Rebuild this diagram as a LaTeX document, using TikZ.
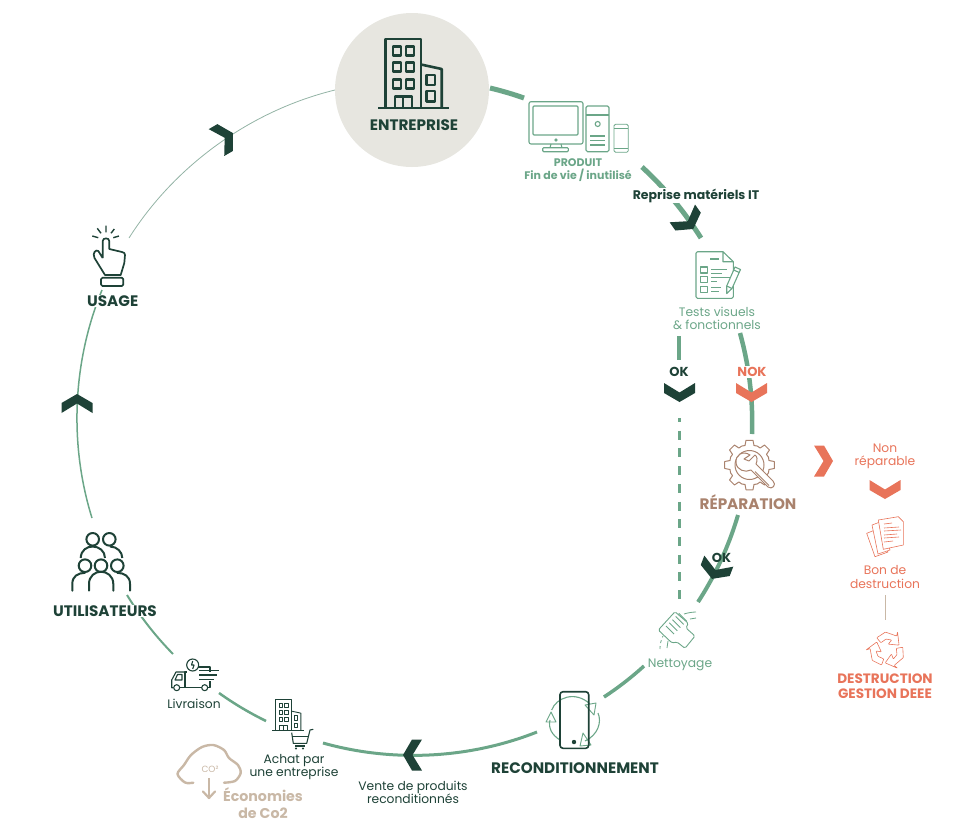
\documentclass[tikz,border=0pt]{standalone}
\usepackage{fontspec}
\setmainfont{Poppins}
\definecolor{flowgreen}{HTML}{6BA688}
\definecolor{treegreen}{HTML}{1E4237}
\definecolor{paleline}{HTML}{93B3A5}
\definecolor{hotorange}{HTML}{E8745A}
\definecolor{toolbrown}{HTML}{A9826D}
\definecolor{cloudbeige}{HTML}{C9B8A6}
\definecolor{discgrey}{HTML}{E7E6E0}
\tikzset{
  chevron/.pic={
    \fill (-15.5,-9.5) -- (0,0) -- (15.5,-9.5) -- (15.5,0.5) -- (0,9.5) -- (-15.5,0.5) -- cycle;
  },
  building/.pic={
    \draw (0,0) -- (0,-69) -- (35.3,-69) -- (35.3,0);
    \draw (35.3,-43.5) -- (56,-39) -- (56,0);
    \draw (-7.7,0) -- (63.3,0);
    \foreach \wx in {7.3,20.3}
      \foreach \wy in {-61.3,-45.7,-28.7}
        \draw (\wx,\wy) rectangle ++(8,9);
    \draw (41,-33) rectangle (49.3,-23);
    \draw (41,-17) rectangle (49.3,-6.3);
    \draw (9.3,0) -- (9.3,-11.3) -- (26.3,-11.3) -- (26.3,0);
    \draw (17.3,0) -- (17.3,-11.3);
  }
}
\begin{document}
\begin{tikzpicture}[x=1pt,y=-1pt,line join=round]
\tikzstyle{flow}=[color=flowgreen,looseness=.87]
\tikzstyle{icongreen}=[draw=flowgreen,line width=1.1pt]
\tikzstyle{icondark}=[draw=treegreen,line width=1.1pt]
\tikzstyle{iconorange}=[draw=hotorange,line width=.6pt]
\tikzstyle{iconbrown}=[draw=toolbrown,line width=1pt]
\tikzstyle{caption}=[font=\fontsize{12.3}{13}\selectfont,align=center,inner sep=1pt]
\tikzstyle{heading}=[font=\bfseries\fontsize{15.2}{17}\selectfont,align=center,inner sep=1pt,fill=white,text=treegreen]
\useasboundingbox (0,0) rectangle (954,831);

% points where the ring pieces stop
\coordinate (entA) at (490,88);
\coordinate (entB) at (524,98);
\coordinate (repA) at (642,167);
\coordinate (repB) at (701,238);
\coordinate (nokA) at (740,333);
\coordinate (nokB) at (752,434);
\coordinate (okA) at (679,336);
\coordinate (okB) at (679,360);
\coordinate (dashA) at (679,418);
\coordinate (dashB) at (679,602);
\coordinate (fixA) at (738,515);
\coordinate (fixB) at (698,602);
\coordinate (cleanA) at (644,666);
\coordinate (cleanB) at (604,697);
\coordinate (saleA) at (537,732);
\coordinate (saleB) at (323,743);
\coordinate (buyA) at (266,721);
\coordinate (buyB) at (219,693);
\coordinate (truckA) at (173,654);
\coordinate (truckB) at (127,595);
\coordinate (userA) at (92,518);
\coordinate (userB) at (102,290);
\coordinate (handA) at (129,238);
\coordinate (handB) at (335,90);
\coordinate (paperA) at (885.7,595);
\coordinate (paperB) at (885.7,620);

\path[flow]
    (entA) edge [line width=5pt,bend left=3] (entB)
    (repA) edge [line width=5pt,bend left=7.6] (repB)
    (nokA) edge [line width=4.5pt,bend left=8.7] (nokB)
    (fixA) edge [line width=4pt,bend left=8.2] (fixB)
    (cleanA) edge [line width=3.5pt,bend left=4.4] (cleanB)
    (saleA) edge [line width=3pt,bend left=18.6] (saleB)
    (buyA) edge [line width=2.5pt,bend left=4.6] (buyB)
    (truckA) edge [line width=2pt,bend left=6.4] (truckB)
    (userA) edge [line width=1.5pt,bend left=19.8] (userB);
\path[color=flowgreen] (okA) edge [line width=4pt] (okB);
\path[color=flowgreen] (dashA) edge [line width=3pt,dash pattern=on 9pt off 8.7pt,dash phase=5pt] (dashB);
\path[color=paleline] (handA) edge [line width=.8pt,bend left=22,looseness=.87] (handB);
\path[color=cloudbeige] (paperA) edge [line width=.8pt] (paperB);

% company
\node [circle,fill=discgrey,minimum size=154pt,inner sep=0pt] (company) at (412,90) {};
\pic [color=treegreen,line width=2.6pt] at (385.7,108) {building};

% product
\draw[icongreen,rounded corners=2pt] (529,101.7) rectangle (583,144);
\draw[icongreen,rounded corners=1pt] (533,106) rectangle (578,135);
\draw[icongreen] (556,140) circle (1.2);
\draw[icongreen] (551,144) -- (550,147.7) (561,144) -- (562,147.7);
\draw[icongreen,rounded corners=1pt] (542.7,147.7) rectangle (568.3,151.7);
\draw[icongreen,rounded corners=1.5pt] (586,106) rectangle (609,151.7);
\draw[icongreen] (586,115) -- (609,115);
\draw[icongreen] (597.7,124) circle (2.5);
\foreach \ly in {136,140.7,145}
  \draw[icongreen] (590,\ly) -- (605,\ly);
\draw[icongreen,rounded corners=1.5pt,line width=.8pt] (614,124.3) rectangle (628.3,152.3);
\draw[icongreen,line width=.8pt] (614,128.3) -- (628.3,128.3) (614,148.3) -- (628.3,148.3);

% tests sheet
\draw[icongreen,rounded corners=1.5pt] (723,251.7) -- (696,251.7) -- (696,298.3) -- (733.3,298.3) -- (733.3,284);
\draw[icongreen] (733.3,273) -- (733.3,261.7) -- (723,251.7) -- (723,261.7) -- (733.3,261.7);
\draw[icongreen] (710,259) -- (719,259);
\foreach \by in {267,276.7,286.7}
  \draw[icongreen] (700.7,\by) rectangle ++(6.6,6);
\draw[icongreen] (711,269.3) -- (727,269.3) (711,273.3) -- (722,273.3);
\draw[icongreen] (711,277.7) -- (731,277.7) (711,281.7) -- (717,281.7);
\draw[icongreen] (711,287.3) -- (721,287.3) (711,291.7) -- (718.5,291.7);
\draw[icongreen,fill=white] (726.7,293.5) -- (726.7,286) -- (735,267) -- (740.5,269.5) -- (732,288.5) -- cycle;
\draw[icongreen] (726.7,286) -- (732,288.5) (733.7,270) -- (739.2,272.5);

% repair gear
\draw[iconbrown,shift={(749.5,465)}] (-13:20) \foreach \ga in {0,45,...,315} {
    -- (\ga-13:20) -- (\ga-8:25) -- (\ga+8:25) -- (\ga+13:20) -- (\ga+22.5:20.5)
  } -- cycle;
\draw[iconbrown] (749.5,465) circle (14.5);
\draw[iconbrown,fill=white] (750,455) .. controls (743,450) and (735,455) .. (736,463)
  .. controls (737,470) and (745,473) .. (751,470) -- (768,487)
  .. controls (772,490) and (777,485) .. (773,481) -- (756,464)
  .. controls (758,460) and (757,456) .. (755,455) -- (749,461) -- (744,459) -- cycle;
\draw[iconbrown] (755,471.5) -- (769,485.5);

% sheets to destroy
\draw[iconorange,fill=white] (866.7,533.3) -- (875,530) -- (888,552) -- (875,556.7) -- cycle;
\draw[iconorange,fill=white] (872,525) -- (880,522) -- (890,550) -- (878,554) -- cycle;
\draw[iconorange,fill=white] (878.3,520) -- (898.3,516.7) -- (903.3,521.7) -- (903.3,545) -- (883.3,549.3) -- cycle;
\foreach \ly/\lx in {524/892,528/899,531/901,535/897,538/899,542/893}
  \draw[iconorange] (884,\ly) -- (\lx,\ly-1);

% recycling
\foreach \ra in {0,120,240}
  \draw[iconorange,shift={(887,650)},rounded corners=.6pt]
    (\ra-130:16) -- (\ra-95:18) -- (\ra-55:17) -- (\ra-60:21) -- (\ra-22:13) -- (\ra-78:6) -- (\ra-65:11) -- (\ra-95:11) -- (\ra-130:9.5) -- cycle;

% cleaning
\draw[icongreen,line width=.9pt,rounded corners=1.5pt] (658.3,630) -- (675,611.7) -- (688.3,623.3) -- (686,628) -- (695,636) -- (685,648.3) -- (677,642) -- (672,643) -- cycle;
\foreach \da in {0,1,2,3,4}
  \draw[icongreen,line width=.9pt] (666+\da*3.2,626-\da*3.2) -- (674+\da*3.2,634-\da*3.2);
\draw[icongreen,line width=.8pt] (684,614) .. controls (687,613) and (692,612) .. (696,612);
\draw[icongreen,line width=.8pt] (690,619) -- (696,618);
\draw[icongreen,line width=.8pt,dashed] (660,649) .. controls (660,644) and (661,640) .. (663,636);
\draw[icongreen,line width=.8pt] (667,648) -- (668,641);

% phone with arrows
\draw[icongreen] (551.7,710) .. controls (556,698) and (575,690) .. (590,704);
\draw[icongreen] (598,713) .. controls (602,722) and (598,735) .. (585,741);
\draw[icongreen] (560,740) .. controls (552,735) and (548,728) .. (550,720);
\draw[icongreen,line width=.9pt] (585,705) -- (596,703) -- (594,715) -- cycle;
\draw[icongreen,line width=.9pt] (583,733) -- (591,745) -- (580,746) -- cycle;
\draw[icongreen,line width=.9pt] (546,722) -- (551,712) -- (556,722) -- cycle;
\draw[icondark,line width=1.6pt,rounded corners=3pt] (560,691.7) rectangle (588.7,748.3);
\fill[treegreen] (574,742) circle (2.2);

% company with a cart
\pic [color=treegreen,line width=.9pt,scale=.45] at (275.7,730.7) {building};
\draw[icondark] (291.7,732.7) -- (293.3,743.3) -- (306.7,743.3) -- (310,730) -- (313.3,729.3);
\draw[icondark] (292.3,736.7) -- (308.3,736.7) (295,746) -- (305,746);
\fill[treegreen] (296,748.5) circle (1.2) (303,748.5) circle (1.2);

% truck
\draw[icondark] (185,687.7) -- (185,672) -- (187,672) (198,667) -- (210,667) -- (210,672) (210,681) -- (210,687.7) -- (208,687.7);
\draw[icondark] (173,687.7) -- (171.7,687.7) -- (171.7,680) -- (176,672) -- (185,672);
\draw[icondark] (201.5,687.7) -- (180,687.7);
\draw[icondark] (175,680) -- (177.5,674.5) -- (182,674.5) -- (182,680) -- cycle;
\draw[icondark] (176.7,687.7) circle (3) (204.7,687.7) circle (3);
\draw[icondark] (192.7,665) circle (6);
\draw[icondark] (192.7,661) -- (191.5,665) -- (194,665) -- (192.7,669);
\foreach \ly/\lx in {670.7/219,675/217,679.3/214}
  \draw[icondark] (199,\ly) -- (\lx,\ly);

% cloud
\draw[color=cloudbeige,line width=2.4pt,line cap=round] plot[smooth] coordinates {(193.3,782.7) (185,782.5) (177.5,774) (184,765) (191,755) (202,747) (213.3,745) (224,750) (229,758) (238,765) (240.7,773) (235,781) (224,782.7)};
\node [font=\fontsize{9}{10}\selectfont,text=cloudbeige,inner sep=0pt] (co) at (210,769) {CO²};
\coordinate (cloudA) at (209,778);
\coordinate (cloudB) at (209,798);
\draw[color=cloudbeige,line width=2.2pt] (cloudA) -- (cloudB);
\draw[color=cloudbeige,line width=2.2pt,line cap=round] (203,791.5) -- (cloudB) -- (215,791.5);

% people
\foreach \hx in {92.7,109.3}
  \draw[icondark,line width=2pt] (\hx,539.3) circle (6.3);
\foreach \hx in {85,101,117.3}
  \draw[icondark,line width=2pt] (\hx,565.7) circle (6.3);
\draw[icondark,line width=2pt] (80.7,558) .. controls (81,550) and (87,546.5) .. (92.7,546.5) .. controls (99,546.5) and (105,551) .. (105,558);
\draw[icondark,line width=2pt] (110,546.5) .. controls (117,546.5) and (122.3,552) .. (122.3,558);
\draw[icondark,line width=2pt,line cap=round] (72.3,590.7) -- (72.3,584) .. controls (72.3,576) and (78,573) .. (85,572.8);
\draw[icondark,line width=2pt,line cap=round] (89,590.7) -- (89,584) .. controls (89,576) and (95,571.7) .. (101,571.7) .. controls (107,571.7) and (113.3,576) .. (113.3,584) -- (113.3,590.7);
\draw[icondark,line width=2pt,line cap=round] (130,590.7) -- (130,584) .. controls (130,576) and (124,573) .. (117.3,572.8);

% hand
\draw[icondark,line width=1.7pt] (102.7,258) -- (102.7,241) .. controls (102.7,237.5) and (109.3,237.5) .. (109.3,241) -- (109.3,249)
  -- (122,252) .. controls (124,252.5) and (125,253) .. (125,255) -- (124.3,263) -- (120.7,275) -- (105,275) -- (94.5,258)
  .. controls (92,253) and (96,249) .. (98.3,251) -- (102.7,258);
\draw[icondark,line width=1.7pt,rounded corners=1.5pt] (101,277.7) rectangle (123.3,286);
\draw[icondark,line width=1.4pt] (106,225.7) -- (106,232.3) (97.3,228.3) -- (101,233.3) (114.3,229) -- (111,233.3) (92.3,236) -- (98.3,237.7) (119,236) -- (113.3,237.7);

% labels
\node [heading,fill=none] (companylabel) at (414,125) {ENTREPRISE};
\node [caption,font=\bfseries\fontsize{11}{12.5}\selectfont,text=flowgreen] (productlabel) at (578,170) {PRODUIT\\Fin de vie / inutilisé};
\node [heading,font=\bfseries\fontsize{12.5}{14}\selectfont] (takeback) at (696,195.5) {Reprise matériels IT};
\node [caption,text=flowgreen] (testlabel) at (717,318) {Tests visuels\\\& fonctionnels};
\node [heading,font=\bfseries\fontsize{13}{14}\selectfont] (oklabel) at (679,372) {OK};
\node [heading,font=\bfseries\fontsize{13}{14}\selectfont,text=hotorange] (noklabel) at (752,372) {NOK};
\node [heading,fill=none,text=toolbrown] (repairlabel) at (748,502) {RÉPARATION};
\node [caption,text=hotorange] (scraplabel) at (885,456) {Non\\réparable};
\node [caption,font=\fontsize{12.3}{14}\selectfont,text=hotorange] (formlabel) at (885,577) {Bon de\\destruction};
\node [heading,fill=none,font=\bfseries\fontsize{13.6}{14.8}\selectfont,text=hotorange] (wastelabel) at (885,686.3) {DESTRUCTION\\GESTION DEEE};
\node [heading,fill=none,font=\bfseries\fontsize{13}{14}\selectfont] (oktwolabel) at (721.5,557.5) {OK};
\node [caption,text=flowgreen] (cleanlabel) at (680,664.5) {Nettoyage};
\node [heading,fill=none] (refurblabel) at (575,768) {RECONDITIONNEMENT};
\node [caption,text=treegreen] (salelabel) at (413,792.5) {Vente de produits\\reconditionnés};
\node [caption,text=treegreen] (buylabel) at (294,767) {Achat par\\une entreprise};
\node [caption,text=treegreen] (truckcaption) at (194,704) {Livraison};
\node [heading,fill=none,text=cloudbeige,font=\bfseries\fontsize{14.2}{17}\selectfont] (savinglabel) at (263,803.5) {Économies\\de Co2};
\node [heading] (userlabel) at (105,611) {UTILISATEURS};
\node [heading] (handlabel) at (112.7,301) {USAGE};

% chevrons
\pic [color=treegreen,rotate=35] at (687.8,221.2) {chevron};
\pic [color=treegreen] at (679.5,392.5) {chevron};
\pic [color=hotorange] at (751.5,392.5) {chevron};
\pic [color=treegreen,rotate=-21] at (715.4,570) {chevron};
\pic [color=hotorange,rotate=90] at (823.5,461) {chevron};
\pic [color=hotorange] at (885,489.5) {chevron};
\pic [color=treegreen,rotate=-90] at (412.5,755) {chevron};
\pic [color=treegreen,rotate=180] at (77,403.5) {chevron};
\pic [color=treegreen,rotate=120] at (224.7,137.8) {chevron};
\end{tikzpicture}
\end{document}
